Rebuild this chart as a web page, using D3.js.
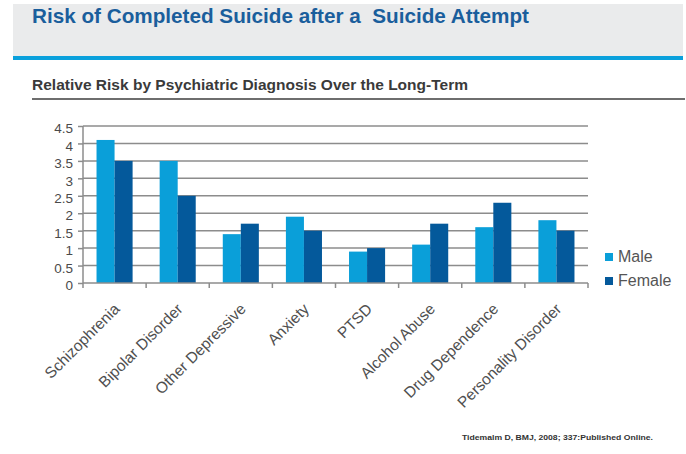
<!DOCTYPE html>
<html>
<head>
<meta charset="utf-8">
<script src="https://cdn.jsdelivr.net/npm/d3@7"></script>
<style>
  html, body { margin: 0; padding: 0; background: #fff; }
  svg { display: block; }
</style>
</head>
<body>
<svg id="chart" width="686" height="454"></svg>
<script>
// Relative risk of completed suicide after an attempt, by diagnosis and sex
const categories = ["Schizophrenia", "Bipolar Disorder", "Other Depressive", "Anxiety",
                    "PTSD", "Alcohol Abuse", "Drug Dependence", "Personality Disorder"];
const series = ["Male", "Female"];
const maleValues   = [4.1, 3.5, 1.4, 1.9, 0.9, 1.1, 1.6, 1.8];
const femaleValues = [3.5, 2.5, 1.7, 1.5, 1.0, 1.7, 2.3, 1.5];
const yTicks = [0, 0.5, 1, 1.5, 2, 2.5, 3, 3.5, 4, 4.5];
const yTickLabels = ["0", "0.5", "1", "1.5", "2", "2.5", "3", "3.5", "4", "4.5"];

const titleText = "Risk of Completed Suicide after a  Suicide Attempt";
const subtitleText = "Relative Risk by Psychiatric Diagnosis Over the Long-Term";
const sourceText = "Tidemalm D, BMJ, 2008; 337:Published Online.";

const colors = { Male: "#0a9fd9", Female: "#04599b" };

const rows = categories.map((c, i) => ({ category: c, Male: maleValues[i], Female: femaleValues[i] }));

const svg = d3.select("#chart");

// Header band
svg.append("rect").attr("x", 13).attr("y", 4).attr("width", 670).attr("height", 52)
  .attr("fill", "#eaebec");
svg.append("rect").attr("x", 13).attr("y", 56).attr("width", 670).attr("height", 4)
  .attr("fill", "#0aa0dc");
svg.append("text").attr("x", 32).attr("y", 23)
  .attr("font-family", "'Liberation Sans Narrow', 'Arial Narrow', 'Liberation Sans', Arial, sans-serif")
  .attr("font-weight", "bold").attr("font-size", 21).attr("fill", "#1a5e9c")
  .attr("textLength", 497).attr("lengthAdjust", "spacingAndGlyphs")
  .style("white-space", "pre")
  .text(titleText);

// Subtitle with rule beneath
svg.append("text").attr("x", 32).attr("y", 90)
  .attr("font-family", "'Liberation Sans Narrow', 'Arial Narrow', 'Liberation Sans', Arial, sans-serif")
  .attr("font-weight", "bold").attr("font-size", 15).attr("fill", "#3a3a3a")
  .attr("textLength", 436).attr("lengthAdjust", "spacingAndGlyphs")
  .text(subtitleText);
svg.append("line").attr("x1", 32).attr("x2", 685).attr("y1", 99).attr("y2", 99)
  .attr("stroke", "#6e6e6e").attr("stroke-width", 2);

// Plot area
const plot = { left: 83, right: 588, top: 126, bottom: 283 };

const x = d3.scaleBand().domain(categories).range([plot.left, plot.right]).padding(0);
const x1 = d3.scaleBand().domain(series).range([0, x.bandwidth()])
  .paddingInner(0).paddingOuter(0.75);
const y = d3.scaleLinear().domain([0, 4.5]).range([plot.bottom, plot.top]);

// Horizontal gridlines
svg.append("g").selectAll("line").data(yTicks.filter(t => t > 0)).join("line")
  .attr("x1", plot.left).attr("x2", plot.right)
  .attr("y1", d => y(d)).attr("y2", d => y(d))
  .attr("stroke", "#8c8c8c").attr("stroke-width", 1.5);

// Bars
const groups = svg.append("g").selectAll("g").data(rows).join("g")
  .attr("transform", d => `translate(${x(d.category)},0)`);
groups.selectAll("rect").data(d => series.map(s => ({ key: s, value: d[s] }))).join("rect")
  .attr("x", d => x1(d.key))
  .attr("width", x1.bandwidth())
  .attr("y", d => y(d.value))
  .attr("height", d => y(0) - y(d.value))
  .attr("fill", d => colors[d.key]);

// Y axis
const yAxis = d3.axisLeft(y).tickValues(yTicks)
  .tickFormat((d, i) => yTickLabels[i]).tickSize(5).tickPadding(5);
const gy = svg.append("g").attr("transform", `translate(${plot.left},0)`).call(yAxis);
gy.select(".domain").attr("stroke", "#8c8c8c").attr("stroke-width", 1.5)
  .attr("d", `M0,${plot.top}V${plot.bottom}`);
gy.selectAll(".tick line").attr("stroke", "#8c8c8c").attr("stroke-width", 1.5);
gy.selectAll(".tick text").attr("font-family", "'Liberation Sans', Arial, sans-serif")
  .attr("font-size", 13.5).attr("fill", "#4a4a4a").attr("dy", "0.5em");

// X axis line and boundary ticks
const gx = svg.append("g");
gx.append("line").attr("x1", plot.left).attr("x2", plot.right)
  .attr("y1", y(0)).attr("y2", y(0)).attr("stroke", "#8c8c8c").attr("stroke-width", 1.5);
const boundaries = categories.map(c => x(c)).concat([x.range()[1]]);
gx.selectAll("line.tick").data(boundaries).join("line").attr("class", "tick")
  .attr("x1", d => d).attr("x2", d => d)
  .attr("y1", y(0)).attr("y2", y(0) + 5)
  .attr("stroke", "#8c8c8c").attr("stroke-width", 1.5);

// Rotated category labels
gx.selectAll("text").data(categories).join("text")
  .attr("transform", d => `translate(${x(d) + x.bandwidth() / 2 + 6},${y(0) + 27}) rotate(-45)`)
  .attr("text-anchor", "end")
  .attr("font-family", "'Liberation Sans', Arial, sans-serif")
  .attr("font-size", 15.5).attr("fill", "#4f4f4f")
  .text(d => d);

// Legend
const legend = svg.append("g").attr("transform", "translate(605,253)");
const items = legend.selectAll("g").data(series).join("g")
  .attr("transform", (d, i) => `translate(0,${i * 24})`);
items.append("rect").attr("width", 8).attr("height", 8).attr("fill", d => colors[d]);
items.append("text").attr("x", 13).attr("y", 9)
  .attr("font-family", "'Liberation Sans', Arial, sans-serif")
  .attr("font-size", 16).attr("fill", "#555")
  .text(d => d);

// Source note
svg.append("text").attr("x", 462).attr("y", 440)
  .attr("font-family", "'Liberation Sans', Arial, sans-serif")
  .attr("font-weight", "bold").attr("font-size", 7.5).attr("fill", "#333")
  .attr("textLength", 191).attr("lengthAdjust", "spacingAndGlyphs")
  .text(sourceText);
</script>
</body>
</html>
